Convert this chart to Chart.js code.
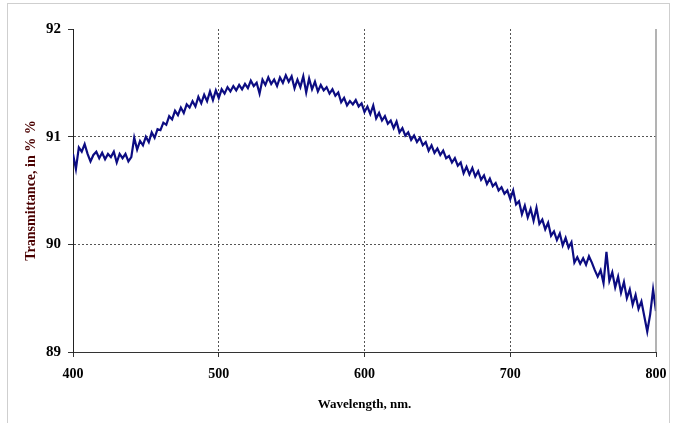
<!DOCTYPE html>
<html>
<head>
<meta charset="utf-8">
<script src="https://cdn.jsdelivr.net/npm/chart.js@4.4.0/dist/chart.umd.min.js"></script>
<style>
  html, body { margin: 0; padding: 0; background: #fff; }
  #wrap { position: relative; width: 676px; height: 423px; }
  #frame { position: absolute; left: 7px; top: 3px; width: 661px; height: 425px;
           border: 1px solid #cfcfcf; pointer-events: none; }
  canvas { position: absolute; left: 0; top: 0; }
</style>
</head>
<body>
<div id="wrap">
  <canvas id="spectrum" width="676" height="423"></canvas>
  <div id="frame"></div>
</div>
<script>
// wavelength grid, 2 nm steps from 400 to 800 nm
const wavelengths = [];
for (let w = 400; w <= 800; w += 2) wavelengths.push(w);

// measured transmittance, %
const transmittance = [
    90.84, 90.70, 90.90, 90.86, 90.93, 90.84, 90.77, 90.83, 90.86, 90.80,
    90.85, 90.79, 90.84, 90.81, 90.86, 90.76, 90.84, 90.80, 90.84, 90.77,
    90.81, 90.99, 90.88, 90.96, 90.92, 91.00, 90.95, 91.04, 90.99, 91.07,
    91.06, 91.13, 91.11, 91.19, 91.16, 91.24, 91.20, 91.27, 91.22, 91.30,
    91.27, 91.33, 91.28, 91.37, 91.31, 91.39, 91.33, 91.42, 91.34, 91.43,
    91.36, 91.44, 91.40, 91.46, 91.42, 91.47, 91.43, 91.48, 91.44, 91.49,
    91.45, 91.52, 91.47, 91.50, 91.40, 91.53, 91.48, 91.55, 91.49, 91.53,
    91.47, 91.55, 91.50, 91.57, 91.51, 91.56, 91.45, 91.53, 91.46, 91.56,
    91.41, 91.54, 91.44, 91.51, 91.42, 91.48, 91.43, 91.46, 91.40, 91.44,
    91.38, 91.41, 91.32, 91.36, 91.29, 91.33, 91.30, 91.34, 91.28, 91.31,
    91.23, 91.28, 91.21, 91.29, 91.17, 91.22, 91.15, 91.19, 91.12, 91.15,
    91.08, 91.14, 91.04, 91.08, 91.01, 91.04, 90.97, 91.01, 90.95, 90.99,
    90.92, 90.95, 90.87, 90.92, 90.85, 90.89, 90.83, 90.87, 90.80, 90.82,
    90.76, 90.80, 90.73, 90.76, 90.66, 90.72, 90.65, 90.71, 90.63, 90.68,
    90.60, 90.64, 90.56, 90.61, 90.54, 90.57, 90.50, 90.53, 90.47, 90.50,
    90.42, 90.50, 90.37, 90.40, 90.28, 90.36, 90.25, 90.33, 90.22, 90.34,
    90.19, 90.23, 90.14, 90.20, 90.08, 90.12, 90.04, 90.10, 89.99, 90.06,
    89.97, 90.02, 89.83, 89.88, 89.82, 89.87, 89.81, 89.89, 89.83, 89.76,
    89.70, 89.76, 89.64, 89.93, 89.66, 89.74, 89.60, 89.70, 89.55, 89.65,
    89.50, 89.58, 89.44, 89.53, 89.40, 89.47, 89.33, 89.19, 89.35, 89.58,
    89.38
];

const xTicks = [400, 500, 600, 700, 800];
const yTicks = [89, 90, 91, 92];

const serif = '"Liberation Serif", "Times New Roman", serif';

// solid frame line on the right side of the plot
const rightEdge = {
    id: 'rightEdge',
    afterDatasetsDraw(chart) {
        const a = chart.chartArea;
        const ctx = chart.ctx;
        ctx.save();
        ctx.strokeStyle = '#9a9a9a';
        ctx.lineWidth = 1.5;
        ctx.beginPath();
        ctx.moveTo(a.right, a.top);
        ctx.lineTo(a.right, a.bottom);
        ctx.stroke();
        ctx.restore();
    }
};

const points = wavelengths.map((w, i) => ({ x: w, y: transmittance[i] }));

new Chart(document.getElementById('spectrum'), {
    type: 'line',
    data: {
        datasets: [{
            data: points,
            borderColor: '#0c0c82',
            borderWidth: 2.2,
            pointRadius: 0,
            tension: 0,
            fill: false
        }]
    },
    options: {
        responsive: false,
        animation: false,
        layout: { padding: { left: 0, top: 29, right: 20, bottom: 0 } },
        plugins: {
            legend: { display: false },
            tooltip: { enabled: false }
        },
        scales: {
            x: {
                type: 'linear',
                min: 400,
                max: 800,
                afterBuildTicks: (s) => { s.ticks = xTicks.map(v => ({ value: v })); },
                afterFit: (s) => { s.height = 71; },
                ticks: {
                    color: '#000',
                    padding: 9,
                    font: { family: serif, size: 14, weight: 'bold' }
                },
                grid: {
                    color: (c) => (c.tick && (c.tick.value === 400 || c.tick.value === 800)) ? 'rgba(0,0,0,0)' : '#555',
                    tickColor: '#333',
                    tickLength: 5,
                    lineWidth: 1
                },
                border: { display: true, color: '#333', width: 1, dash: [2, 2] },
                title: {
                    display: true,
                    text: 'Wavelength, nm.',
                    color: '#000',
                    padding: { top: 0, bottom: 11 },
                    font: { family: serif, size: 13, weight: 'bold' }
                }
            },
            y: {
                min: 89,
                max: 92,
                afterBuildTicks: (s) => { s.ticks = yTicks.map(v => ({ value: v })); },
                afterFit: (s) => { s.width = 73; },
                ticks: {
                    color: '#000',
                    padding: 7,
                    font: { family: serif, size: 15, weight: 'bold' }
                },
                grid: {
                    color: (c) => (c.tick && (c.tick.value === 89 || c.tick.value === 92)) ? 'rgba(0,0,0,0)' : '#555',
                    tickColor: '#333',
                    tickLength: 5,
                    lineWidth: 1
                },
                border: { display: true, color: '#222', width: 1, dash: [2, 2] },
                title: {
                    display: true,
                    text: 'Transmittance, in % %',
                    color: '#4a0000',
                    padding: { top: 23, bottom: 0 },
                    font: { family: serif, size: 14, weight: 'bold' }
                }
            }
        }
    },
    plugins: [rightEdge]
});
</script>
</body>
</html>
